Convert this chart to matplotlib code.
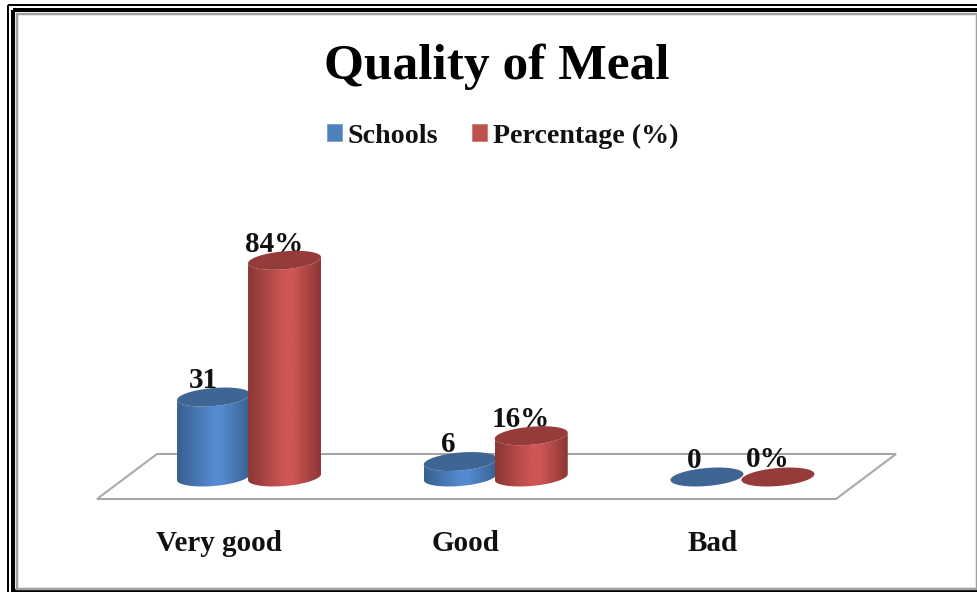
import numpy as np
import matplotlib
matplotlib.use("Agg")
import matplotlib.pyplot as plt
from matplotlib.colors import LinearSegmentedColormap
from matplotlib.patches import Polygon, Patch, Rectangle
from matplotlib.transforms import ScaledTranslation

title = "Quality of Meal"
categories = ["Very good", "Good", "Bad"]
series_names = ["Schools", "Percentage (%)"]
schools = [31, 6, 0]
percentage = [84, 16, 0]
school_labels = ["31", "6", "0"]
percentage_labels = ["84%", "16%", "0%"]

W, H = 978, 592
FONT = "Liberation Serif"
plt.rcParams["font.family"] = [FONT, "DejaVu Serif"]
plt.rcParams["font.weight"] = "bold"

fig = plt.figure(figsize=(W / 100, H / 100), dpi=100, facecolor="white")

# pixel-space backdrop: frame and floor
bg = fig.add_axes([0, 0, 1, 1], zorder=0)
bg.set_xlim(0, W)
bg.set_ylim(H, 0)
bg.axis("off")
def frame(x0, y0, x1, y1, color, lw):
    bg.add_patch(Rectangle((x0, y0), x1 - x0, y1 - y0, fill=False, ec=color, lw=lw * 0.72, joinstyle="miter"))
frame(8, 5, 1100, 1100, "black", 2)
frame(13, 10, 1100, 591, "black", 4)
frame(17, 14, 977, 589, "#a0a0a0", 2.5)
bg.add_patch(Polygon([(97, 499), (836, 499), (896, 454), (157, 454)], closed=True,
                     fill=False, ec="#a6a6a6", lw=2 * 0.72))

# data axes: y = 0 sits on the pixel row of the bar bases
px_per_unit = 2.58
base_px, left_px, right_px = 477, 125.7, 865.8
y_low, y_high = -12, 100
ax = fig.add_axes([left_px / W, (H - base_px + y_low * px_per_unit) / H, (right_px - left_px) / W,
                   (y_high - y_low) * px_per_unit / H], zorder=1)
ax.patch.set_alpha(0)
ax.set_xlim(-0.5, 2.5)
ax.set_ylim(y_low, y_high)
for s in ax.spines.values():
    s.set_visible(False)
ax.set_yticks([])
ax.set_xticks(range(len(categories)))
ax.set_xticklabels(categories, fontsize=21, color="#111111")
ax.tick_params(axis="x", length=0, pad=16)
for lab in ax.get_xticklabels():
    lab.set_transform(lab.get_transform() + ScaledTranslation(-30 / 100, 0, fig.dpi_scale_trans))

px_x = 3 / (right_px - left_px)          # data units of x per pixel
a = 36.5 * px_x                          # ellipse half width
b = 9.0 / px_per_unit                    # ellipse half height
tilt = 3.0 / px_per_unit                 # rise of the right end above the left
bar_off = 35.5 * px_x

t = np.linspace(0, 2 * np.pi, 121)
def ell(cx, cy, tt):
    return np.column_stack([cx + a * np.cos(tt), cy + b * np.sin(tt) + tilt * np.cos(tt)])

def cylinder(cx, value, dark, light, top_color, z):
    if value > 0:
        lower = np.linspace(np.pi, 2 * np.pi, 60)
        lo = ell(cx, 0, lower)
        hi = ell(cx, value, lower[::-1])
        body = Polygon(np.vstack([lo, hi]), closed=True, transform=ax.transData, fc="none", ec="none")
        ax.add_patch(body)
        cmap = LinearSegmentedColormap.from_list("c", [(0, dark), (0.5, light), (0.62, light), (1, dark)])
        im = ax.imshow(np.linspace(0, 1, 128)[None, :], cmap=cmap, aspect="auto",
                       extent=(cx - a, cx + a, -2 * b, value + 2 * b), zorder=z, interpolation="bilinear")
        im.set_clip_path(body)
    ax.add_patch(Polygon(ell(cx, value, t), closed=True, fc=top_color, ec="none", zorder=z + 0.1))

school_dx = [-10, -12, -13]
school_dy = [3, 4, 3]
pct_dx = [-10, -10, -10]
pct_dy = [2, 3, 4]
for i in range(len(categories)):
    cylinder(i - bar_off, schools[i], "#38608f", "#558ad0", "#3e6594", 3)
    cylinder(i + bar_off, percentage[i], "#8a3735", "#cf5654", "#953b39", 4)
    ax.annotate(school_labels[i], (i - bar_off, schools[i]), xytext=(school_dx[i] * 0.72, school_dy[i] * 0.72),
                textcoords="offset points", ha="center", va="bottom", fontsize=21, color="#111111", zorder=2,
                annotation_clip=False)
    ax.annotate(percentage_labels[i], (i + bar_off, percentage[i]), xytext=(pct_dx[i] * 0.72, pct_dy[i] * 0.72),
                textcoords="offset points", ha="center", va="bottom", fontsize=21, color="#111111", zorder=2,
                annotation_clip=False)
ax.set_xlim(-0.5, 2.5)
ax.set_ylim(y_low, y_high)

fig.text(497 / W, 1 - 67 / H, title, ha="center", va="center", fontsize=37, color="black")
fig.legend(handles=[Patch(fc="#4f81bd", ec="#6f95c6", lw=0.5, label=series_names[0]),
                    Patch(fc="#c0504d", ec="#cc7370", lw=0.5, label=series_names[1])],
           loc="center", bbox_to_anchor=(502.5 / W, 1 - 136 / H), ncol=2, frameon=False, fontsize=20.2,
           handlelength=0.55, handleheight=0.55, handletextpad=0.2, columnspacing=1.2, labelcolor="#111111")
fig.savefig("out.png", dpi=100)
